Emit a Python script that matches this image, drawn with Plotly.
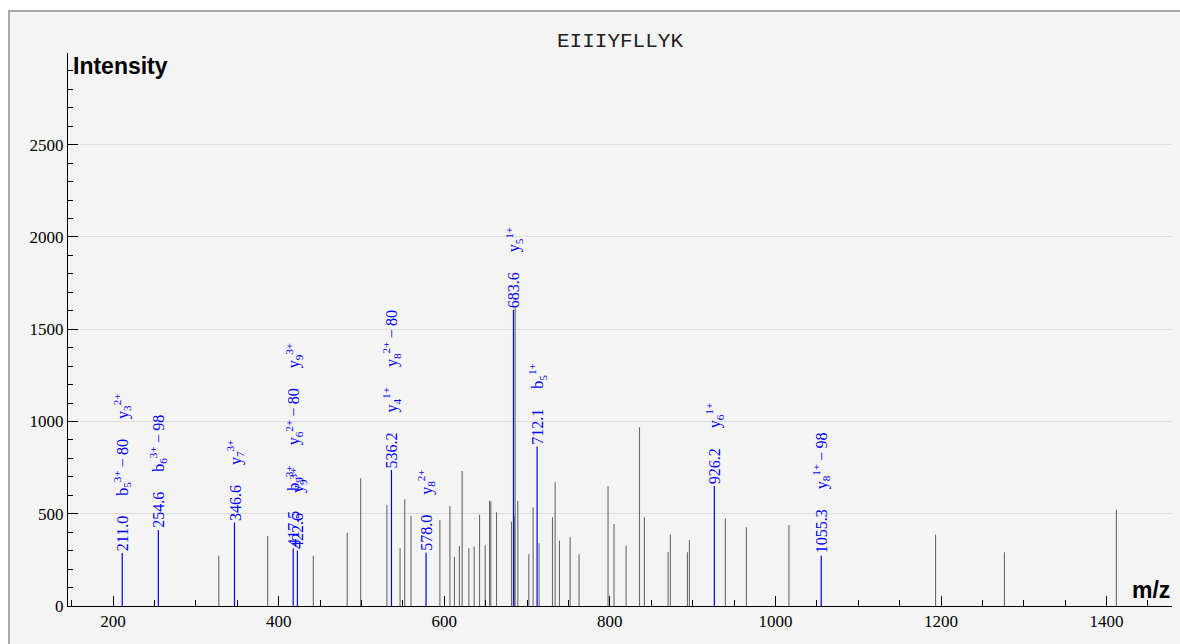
import plotly.graph_objects as go

# ---------------- data ----------------
title_text = "EIIIYFLLYK"

# unassigned (gray) peaks
gray_mz = [327.6, 386.7, 441.8, 482.8, 499.0, 530.7, 546.6, 552.2, 559.8, 594.7,
           606.8, 612.3, 618.2, 621.6, 629.7, 636.1, 642.6, 649.4, 654.7, 656.2,
           663.1, 681.2, 684.5, 685.6, 688.8, 702.1, 707.3, 714.5, 730.7, 733.9,
           739.1, 752.0, 762.8, 797.8, 805.0, 819.6, 835.8, 841.7, 870.3, 873.1,
           893.7, 896.1, 939.5, 964.9, 1016.3, 1193.4, 1276.6, 1411.8]
gray_int = [273, 380, 273, 395, 692, 547, 313, 578, 488, 466,
            542, 267, 325, 732, 313, 322, 494, 329, 571, 566,
            508, 457, 490, 1615, 569, 280, 535, 340, 481, 671,
            354, 372, 280, 651, 445, 326, 969, 481, 293, 387,
            291, 358, 475, 427, 439, 387, 291, 521]

# annotated (blue) fragment-ion peaks
ion_mz = [211.0, 254.6, 346.6, 417.5, 422.6, 536.2, 578.0, 683.6, 712.1, 926.2, 1055.3]
ion_int = [287, 412, 452, 311, 300, 737, 289, 1605, 864, 651, 273]
ion_labels = [
    ["b<sub>5</sub><sup>3+</sup>\u2009\u2212\u200980", "y<sub>3</sub><sup>2+</sup>"],
    ["b<sub>6</sub><sup>3+</sup>\u2009\u2212\u200998"],
    ["y<sub>7</sub><sup>3+</sup>"],
    ["b<sub>9</sub><sup>3+</sup>", "y<sub>6</sub><sup>2+</sup>\u2009\u2212\u200980", "y<sub>9</sub><sup>3+</sup>"],
    ["y<sub>9</sub><sup>3+</sup>"],
    ["y<sub>4</sub><sup>1+</sup>", "y<sub>8</sub><sup>2+</sup>\u2009\u2212\u200980"],
    ["y<sub>8</sub><sup>2+</sup>"],
    ["y<sub>5</sub><sup>1+</sup>"],
    ["b<sub>5</sub><sup>1+</sup>"],
    ["y<sub>6</sub><sup>1+</sup>"],
    ["y<sub>8</sub><sup>1+</sup>\u2009\u2212\u200998"],
]

x_range = [145.5, 1479]
y_range = [0, 2997]
y_ticks = [0, 500, 1000, 1500, 2000, 2500]
x_ticks = [200, 400, 600, 800, 1000, 1200, 1400]

# ---------------- figure ----------------
W, H = 1180, 644
ML, MR, MT, MB = 68, 8, 53, 38
PW, PH = W - ML - MR, H - MT - MB


def px_x(px):
    return (px - ML) / PW


def px_y(py):
    return (H - MB - py) / PH


def stems(xs, ys):
    sx, sy = [], []
    for a, b in zip(xs, ys):
        sx += [a, a, None]
        sy += [0, b, None]
    return sx, sy


fig = go.Figure()
gx, gy = stems(gray_mz, gray_int)
fig.add_trace(go.Scatter(x=gx, y=gy, mode="lines", line=dict(color="#6a6a6a", width=1.1),
                         hoverinfo="skip", showlegend=False))
bx, by = stems(ion_mz, ion_int)
fig.add_trace(go.Scatter(x=bx, y=by, mode="lines", line=dict(color="#0000ff", width=1.2),
                         hoverinfo="skip", showlegend=False))

SERIF = "Liberation Serif"
gap = "\u00a0" * 5
annotations = []
for mz, inten, labs in zip(ion_mz, ion_int, ion_labels):
    txt = gap.join([f"{mz:.1f}"] + labs)
    annotations.append(dict(x=mz, y=inten, xref="x", yref="y", text=txt, showarrow=False,
                            textangle=-90, xanchor="center", yanchor="bottom",
                            font=dict(family=SERIF, size=16, color="#0000ff")))

annotations.append(dict(x=0, y=1, xref="paper", yref="paper", text="<b>Intensity</b>",
                        showarrow=False, xanchor="left", yanchor="top", xshift=3, yshift=2,
                        font=dict(family="Liberation Sans", size=23, color="black")))
annotations.append(dict(x=1, y=0, xref="paper", yref="paper", text="<b>m/z</b>",
                        showarrow=False, xanchor="right", yanchor="bottom", yshift=1,
                        font=dict(family="Liberation Sans", size=23, color="black")))
annotations.append(dict(x=0.5, y=px_y(42), xref="paper", yref="paper", text=title_text,
                        showarrow=False, xanchor="center", yanchor="middle",
                        font=dict(family="Liberation Mono", size=21, color="#222")))

shapes = [
    # white area outside the frame
    dict(type="rect", xref="paper", yref="paper", x0=-0.2, x1=1.2, y0=px_y(10), y1=px_y(-20),
         fillcolor="white", line=dict(width=0), layer="above"),
    dict(type="rect", xref="paper", yref="paper", x0=px_x(-20), x1=px_x(8), y0=-0.2, y1=1.2,
         fillcolor="white", line=dict(width=0), layer="above"),
    # gray frame
    dict(type="line", xref="paper", yref="paper", x0=px_x(9), x1=px_x(9), y0=px_y(10), y1=-0.2,
         line=dict(color="#a8a8a8", width=2), layer="above"),
    dict(type="line", xref="paper", yref="paper", x0=px_x(8), x1=1.2, y0=px_y(11), y1=px_y(11),
         line=dict(color="#a8a8a8", width=2), layer="above"),
]

fig.update_layout(
    width=W, height=H,
    margin=dict(l=ML, r=MR, t=MT, b=MB, pad=0),
    paper_bgcolor="#f4f4f4", plot_bgcolor="#f4f4f4",
    annotations=annotations, shapes=shapes,
    showlegend=False,
)
fig.update_xaxes(range=x_range, tickvals=x_ticks, showline=True, linecolor="black", linewidth=1,
                 ticks="inside", ticklen=10, tickwidth=1, tickcolor="black",
                 showgrid=False, zeroline=False,
                 minor=dict(dtick=50, tick0=0, ticks="inside", ticklen=6, tickcolor="black",
                            tickwidth=1, showgrid=False),
                 tickfont=dict(family=SERIF, size=17, color="black"))
fig.update_yaxes(range=y_range, tickvals=y_ticks, showline=True, linecolor="black", linewidth=1,
                 ticks="inside", ticklen=10, tickwidth=1, tickcolor="black",
                 showgrid=True, gridcolor="#dddddd", gridwidth=1, zeroline=False,
                 minor=dict(dtick=100, tick0=0, ticks="inside", ticklen=5, tickcolor="black",
                            tickwidth=1, showgrid=False),
                 tickfont=dict(family=SERIF, size=17, color="black"))

fig.write_html("out.html", config={"displayModeBar": False},
               post_script="document.body.style.margin='0';")
